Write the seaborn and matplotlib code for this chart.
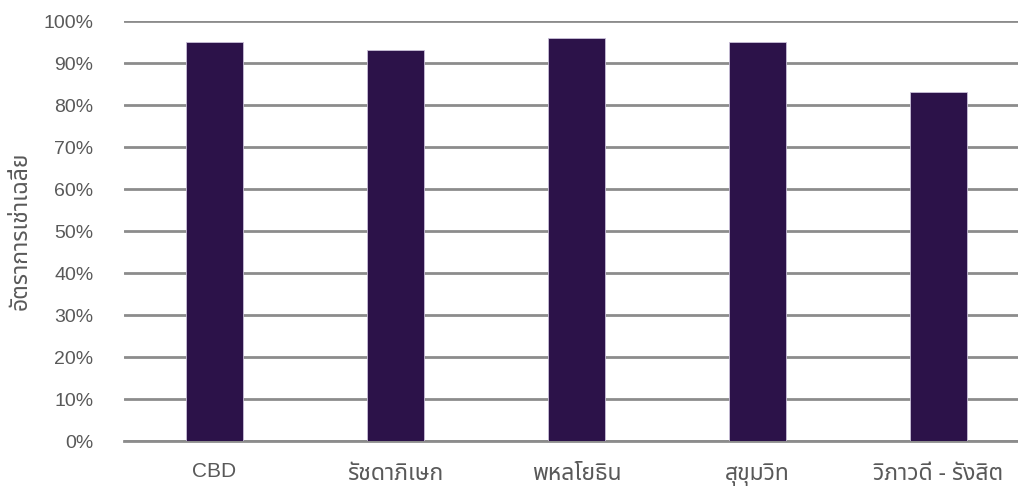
import matplotlib
matplotlib.use("Agg")
import matplotlib.pyplot as plt
import seaborn as sns
import pandas as pd

districts = ["CBD", "รัชดาภิเษก", "พหลโยธิน", "สุขุมวิท", "วิภาวดี - รังสิต"]
occupancy = [95, 93, 96, 95, 83]
y_ticks = [0, 10, 20, 30, 40, 50, 60, 70, 80, 90, 100]
y_label = "อัตราการเช่าเฉลี่ย"

df = pd.DataFrame({"district": districts, "occupancy": occupancy})

sns.set_style("white")
thai_fonts = ["Noto Sans Thai", "Loma", "Garuda", "Noto Sans", "DejaVu Sans"]
plt.rcParams["font.family"] = ["Liberation Sans"] + thai_fonts

fig = plt.figure(figsize=(10.18, 4.96), dpi=100)
ax = fig.add_axes([124 / 1018, 55 / 496, 905 / 1018, 420 / 496])

sns.barplot(data=df, x="district", y="occupancy", color="#2c1249",
            width=0.315, saturation=1, edgecolor="#c9bfd8", linewidth=0.6,
            ax=ax, zorder=3)

ax.set_xlim(-0.5, 4.5)
ax.set_ylim(0, 100)
ax.set_yticks(y_ticks)
ax.set_yticklabels([f"{v}%" for v in y_ticks])
ax.yaxis.grid(True, color="#8c8c8c", linewidth=2, zorder=0)
ax.set_axisbelow(True)
for s in ["top", "right", "left"]:
    ax.spines[s].set_visible(False)
ax.spines["bottom"].set_color("#8c8c8c")
ax.spines["bottom"].set_linewidth(2)
ax.tick_params(axis="both", length=0, labelsize=14, labelcolor="#595959")
ax.tick_params(axis="x", pad=15)
ax.tick_params(axis="y", pad=22)
for lbl in ax.get_xticklabels():
    if lbl.get_text() == "CBD":
        lbl.set_fontsize(15)
    else:
        lbl.set_fontsize(16.5)
        lbl.set_family(thai_fonts)
ax.set_xlabel("")
ax.set_ylabel(y_label, fontsize=16.5, color="#595959", fontweight="bold",
              family=thai_fonts, labelpad=8)

fig.savefig("out.png", dpi=100)
